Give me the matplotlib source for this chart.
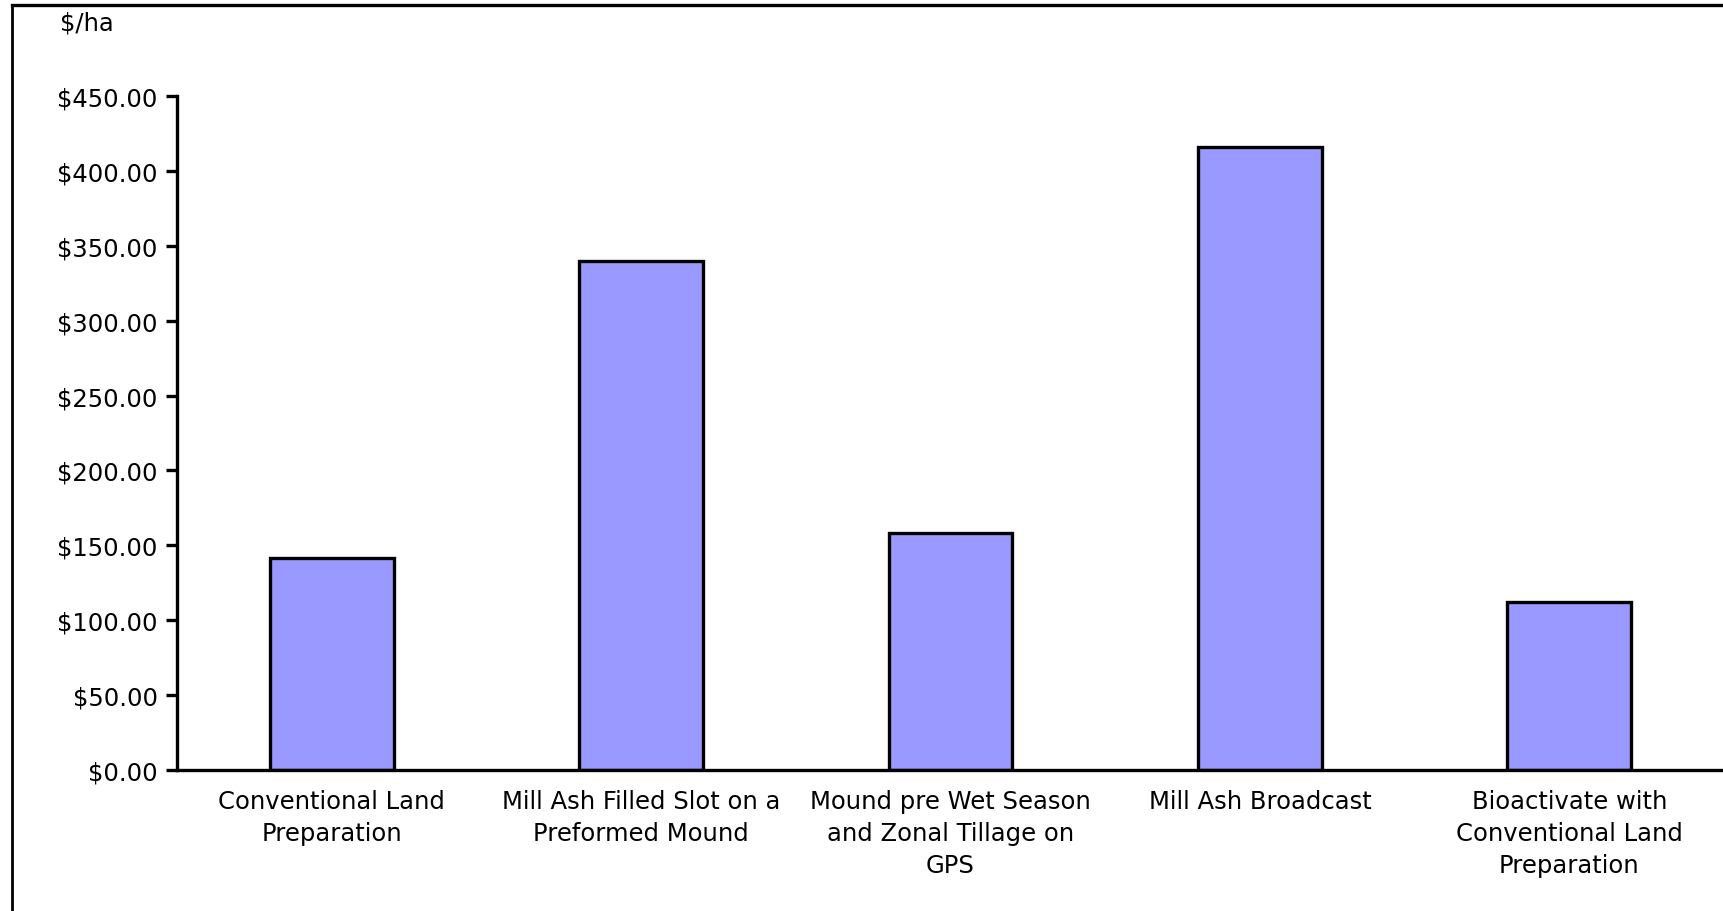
import matplotlib.pyplot as plt
from matplotlib.lines import Line2D
from matplotlib.ticker import FuncFormatter

# cost per hectare for each land preparation option
categories = ['Conventional Land\nPreparation',
              'Mill Ash Filled Slot on a\nPreformed Mound',
              'Mound pre Wet Season\nand Zonal Tillage on\nGPS',
              'Mill Ash Broadcast',
              'Bioactivate with\nConventional Land\nPreparation']
costs = [141.5, 340.0, 158.0, 416.0, 112.5]
yticks = [0, 50, 100, 150, 200, 250, 300, 350, 400, 450]

plt.rcParams['font.family'] = 'DejaVu Sans'

fig = plt.figure(figsize=(17.24, 9.12), dpi=100)
ax = fig.add_axes([177 / 1724, 1 - 771 / 912, 1 - 177 / 1724, (771 - 97) / 912])

x = range(len(categories))
ax.bar(x, costs, width=0.4, color='#9999ff', edgecolor='black', linewidth=2.4)

ax.set_xlim(-0.5, len(categories) - 0.5)
ax.set_ylim(0, 450)
ax.set_yticks(yticks)
ax.yaxis.set_major_formatter(FuncFormatter(lambda v, p: '${:,.2f}'.format(v)))
ax.set_xticks(list(x))
ax.set_xticklabels(categories, fontsize=17.5, linespacing=1.4)
ax.tick_params(axis='x', length=0, pad=14)
ax.tick_params(axis='y', length=8, width=2.4, labelsize=17.5, pad=6)

for side in ['top', 'right']:
    ax.spines[side].set_visible(False)
for side in ['left', 'bottom']:
    ax.spines[side].set_linewidth(2.4)

fig.text(60 / 1724, 1 - 12 / 912, '$/ha', fontsize=17.5, va='top', ha='left')

# outer chart frame (cropped at right and bottom)
fig.add_artist(Line2D([12.5 / 1724, 12.5 / 1724], [0, 1 - 5.5 / 912],
                      transform=fig.transFigure, color='black', linewidth=2))
fig.add_artist(Line2D([12.5 / 1724, 1], [1 - 5.5 / 912, 1 - 5.5 / 912],
                      transform=fig.transFigure, color='black', linewidth=2.4))

fig.savefig('out.png', dpi=100)
